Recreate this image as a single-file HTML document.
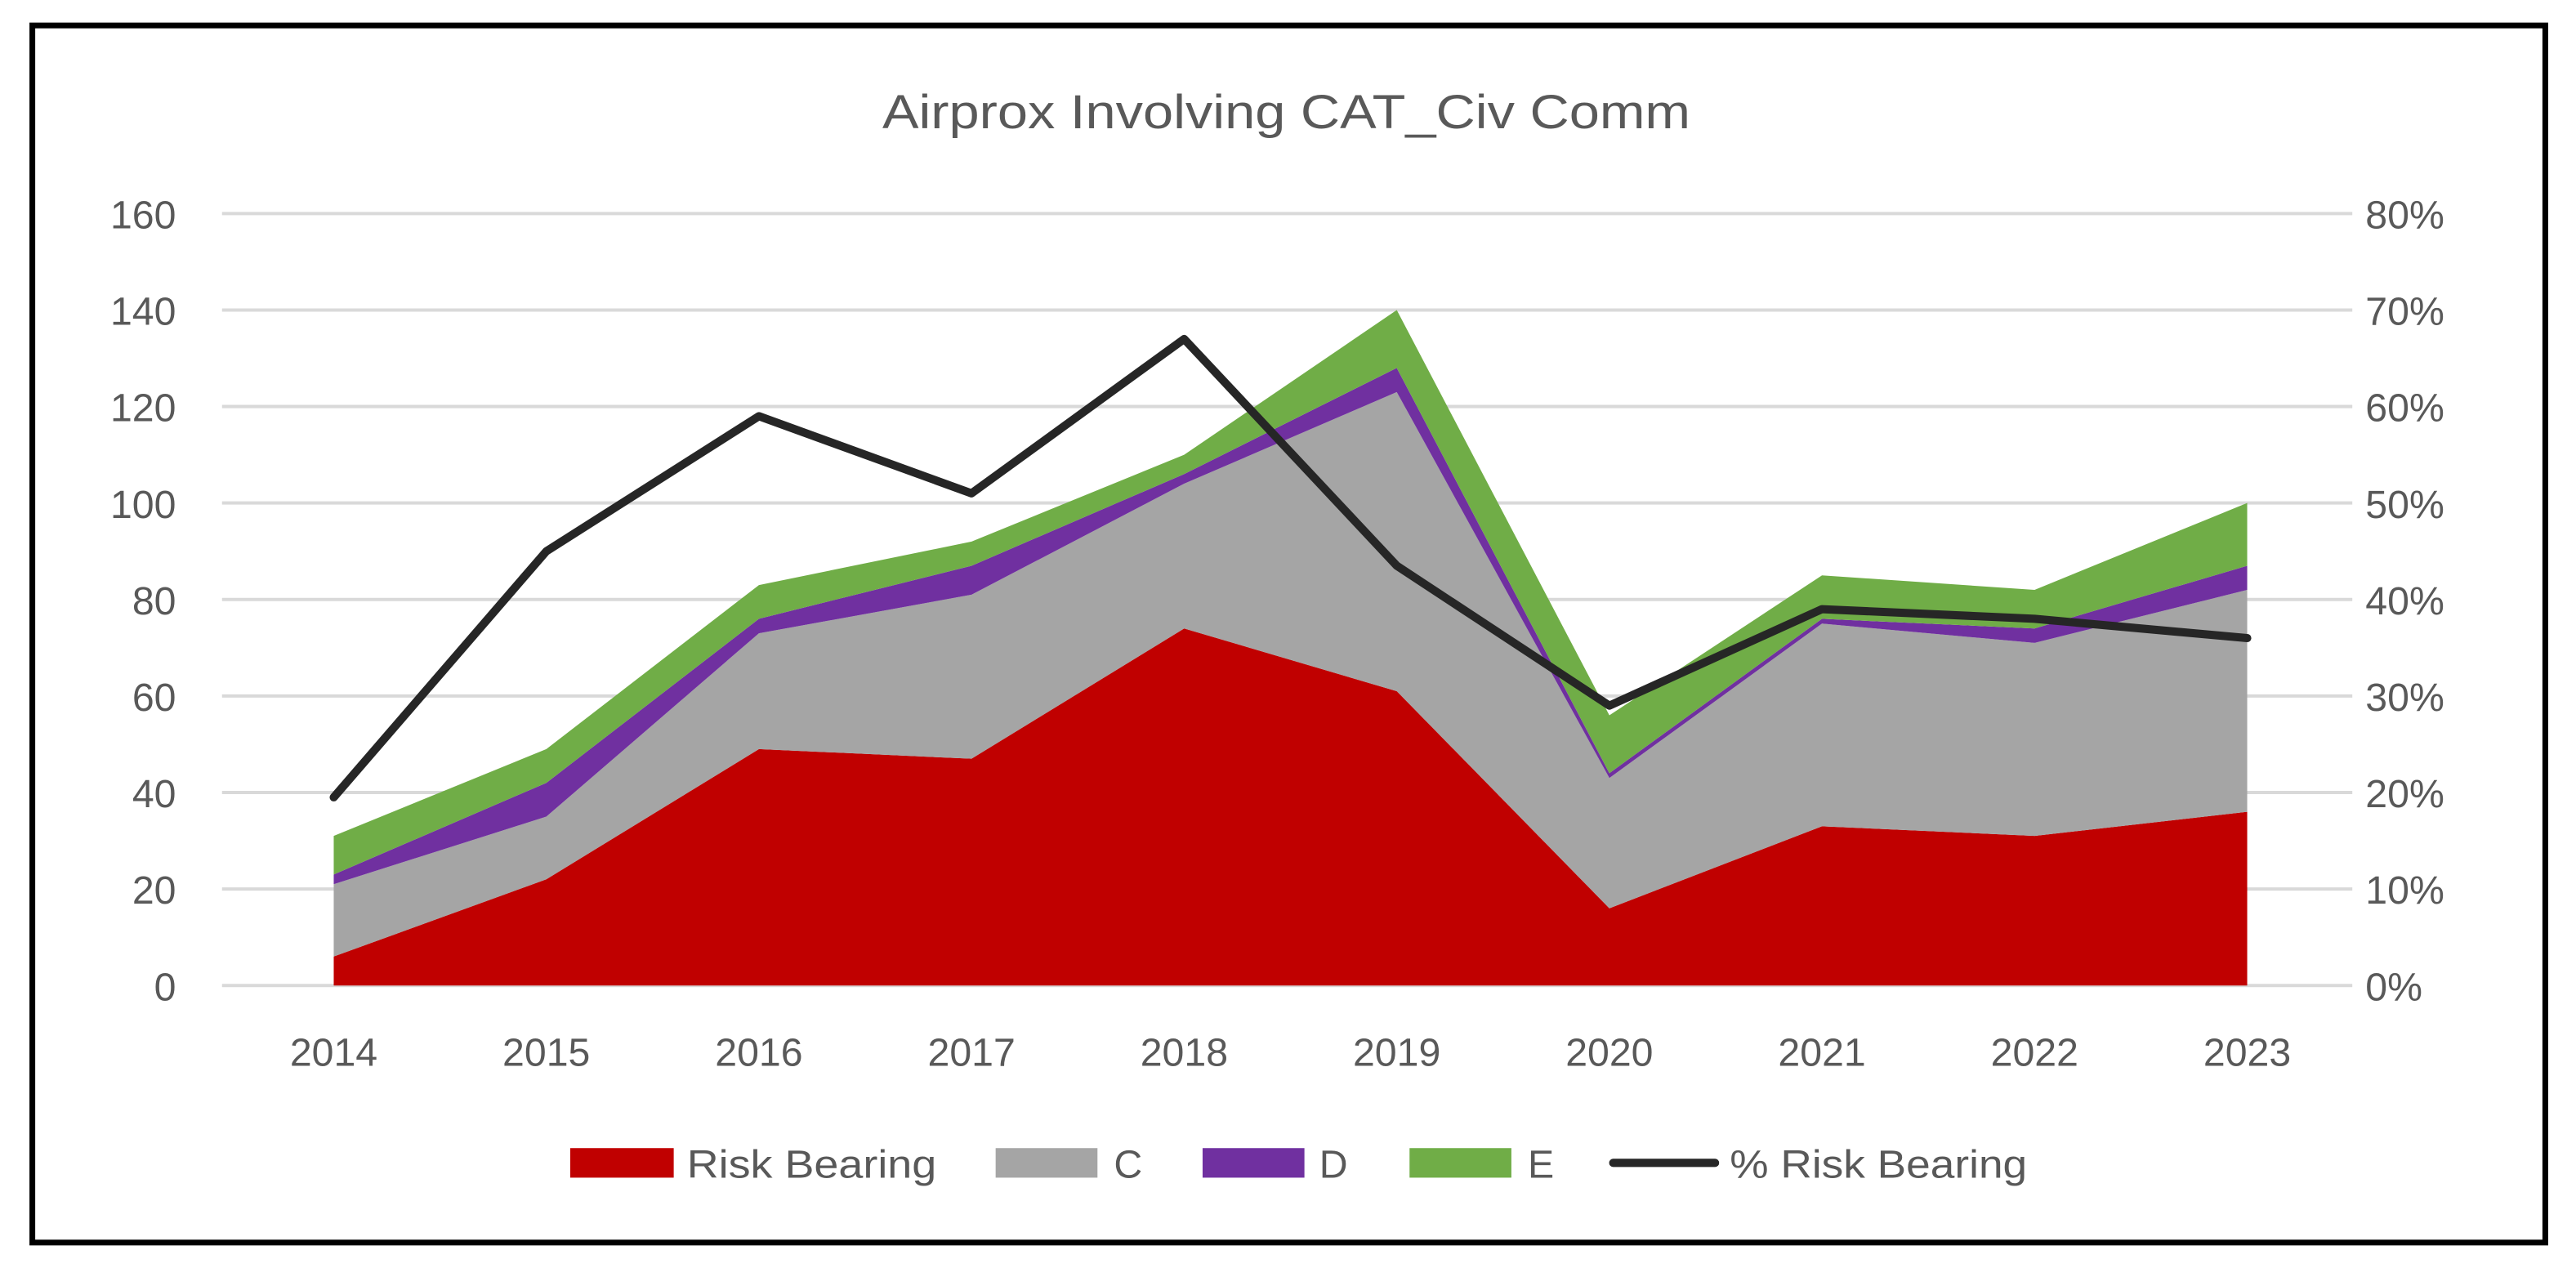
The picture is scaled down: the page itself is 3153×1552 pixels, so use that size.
<!DOCTYPE html>
<html><head><meta charset="utf-8"><style>
html,body{margin:0;padding:0;background:#fff;}
svg{display:block;font-family:"Liberation Sans",sans-serif;}
</style></head><body>
<svg id="chart" width="3153" height="1552" viewBox="0 0 1568 772" xmlns="http://www.w3.org/2000/svg">
<rect x="19.5" y="15.5" width="1530" height="741" fill="#fff" stroke="#000" stroke-width="3.5"/>
<text x="783" y="78" text-anchor="middle" font-size="29" fill="#595959" textLength="492" lengthAdjust="spacingAndGlyphs">Airprox Involving CAT_Civ Comm</text>
<g id="grid"></g>
<g id="areas"></g>
<g id="line"></g>
<g id="labels"></g>
<g id="legend">
  <rect x="347" y="699" width="63" height="18" fill="#c00000"/>
  <text x="418" y="717" font-size="24" fill="#595959" textLength="152" lengthAdjust="spacingAndGlyphs">Risk Bearing</text>
  <rect x="606" y="699" width="62" height="18" fill="#a5a5a5"/>
  <text x="678" y="717" font-size="24" fill="#595959">C</text>
  <rect x="732" y="699" width="62" height="18" fill="#7030a0"/>
  <text x="803" y="717" font-size="24" fill="#595959">D</text>
  <rect x="858" y="699" width="62" height="18" fill="#70ad47"/>
  <text x="930" y="717" font-size="24" fill="#595959">E</text>
  <line x1="982" y1="708" x2="1044" y2="708" stroke="#262626" stroke-width="5" stroke-linecap="round"/>
  <text x="1053" y="717" font-size="24" fill="#595959" textLength="181" lengthAdjust="spacingAndGlyphs">% Risk Bearing</text>
</g>
</svg>
<script>
const years = ['2014','2015','2016','2017','2018','2019','2020','2021','2022','2023'];
const riskBearing = [6,22,49,47,74,61,16,33,31,36];
const seriesC = [15,13,24,34,30,62,27,42,40,46];
const seriesD = [2,7,3,6,2,5,1,1,3,5];
const seriesE = [8,7,7,5,4,12,12,9,8,13];
const pctRisk = [19.5,45,59,51,67,43.5,29,39,38,36];
const leftTicks = [0,20,40,60,80,100,120,140,160];
const rightTicks = ['0%','10%','20%','30%','40%','50%','60%','70%','80%'];

const NS='http://www.w3.org/2000/svg';
const X0=203, X1=1368, Y0=600, Y1=130, GL=135, GR=1432;
const xPos=i=>X0+(X1-X0)*i/(years.length-1);
const yL=v=>Y0-(Y0-Y1)*v/160;
const yR=p=>Y0-(Y0-Y1)*p/80;
function mk(tag,attrs,parent){const e=document.createElementNS(NS,tag);for(const k in attrs)e.setAttribute(k,attrs[k]);parent.appendChild(e);return e;}

const grid=document.getElementById('grid');
const labels=document.getElementById('labels');
leftTicks.forEach((t,i)=>{
  const l=mk('line',{x1:GL,x2:GR,y1:yL(t),y2:yL(t),stroke:'#d9d9d9','stroke-width':2},grid);
  
  
  const tx=mk('text',{x:107,y:yL(t)+9,'text-anchor':'end','font-size':24,fill:'#595959'},labels);
  tx.textContent=t;
  
  
  const tr=mk('text',{x:1440,y:yL(t)+9,'font-size':24,fill:'#595959'},labels);
  tr.textContent=rightTicks[i];
  
  
});
years.forEach((y,i)=>{
  const t=mk('text',{x:xPos(i),y:649,'text-anchor':'middle','font-size':24,fill:'#595959'},labels);
  t.textContent=y;
  
  
});

const areas=document.getElementById('areas');
const stacks=[[riskBearing,'#c00000','area-risk-bearing'],[seriesC,'#a5a5a5','area-c'],[seriesD,'#7030a0','area-d'],[seriesE,'#70ad47','area-e']];
let base=years.map(()=>0);
stacks.forEach(([vals,col,name])=>{
  const top=base.map((b,i)=>b+vals[i]);
  let d='';
  top.forEach((v,i)=>{d+=(i?'L':'M')+xPos(i)+','+yL(v);});
  for(let i=years.length-1;i>=0;i--) d+='L'+xPos(i)+','+yL(base[i]);
  d+='Z';
  const p=mk('path',{d:d,fill:col},areas);
  
  
  base=top;
});

const lineG=document.getElementById('line');
const pts=pctRisk.map((v,i)=>xPos(i)+','+yR(v)).join(' ');
const pl=mk('polyline',{points:pts,fill:'none',stroke:'#262626','stroke-width':5,'stroke-linejoin':'round','stroke-linecap':'round'},lineG);


</script>
</body></html>
